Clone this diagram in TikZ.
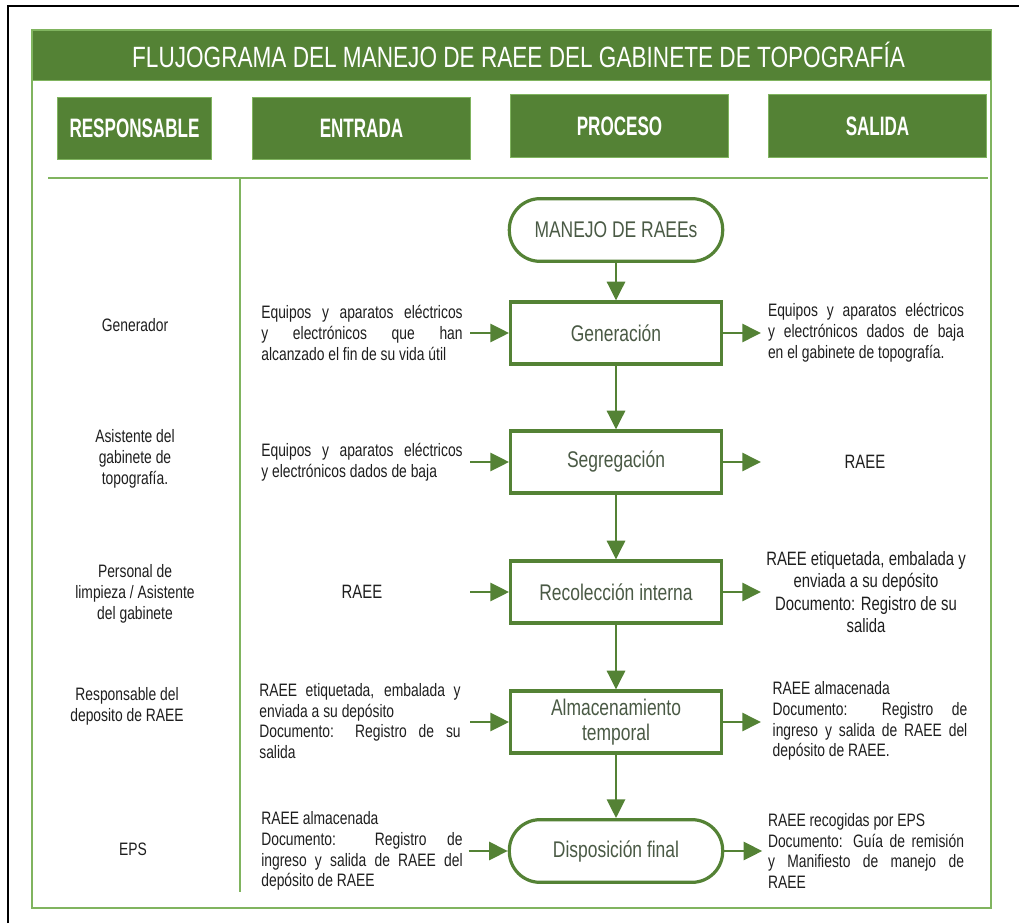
\documentclass[tikz,border=0pt]{standalone}
\usepackage{fontspec}
\setmainfont{Liberation Sans}[FakeStretch=0.77]
\newfontfamily\titlefont{Liberation Sans}[FakeStretch=0.77]
\newfontfamily\headfont{Liberation Sans}[FakeStretch=0.64]
\usetikzlibrary{arrows.meta, positioning}
\definecolor{rgGreen}{HTML}{548235}
\definecolor{rgLight}{HTML}{80B45F}
\definecolor{rgInk}{HTML}{1E1E1E}
\definecolor{rgProc}{HTML}{4A5A45}
\tikzset{
  headbox/.style={
    fill=rgGreen, draw=rgLight, line width=0.6pt, text=white,
    font=\headfont\bfseries\fontsize{20}{24}\selectfont,
    minimum height=47pt, inner sep=0pt
  },
  procbox/.style={
    draw=rgGreen, line width=2.4pt, fill=white, align=center,
    minimum width=158pt, minimum height=46.5pt, inner sep=2pt,
    text=rgProc, font=\fontsize{17}{19}\selectfont
  },
  termbox/.style={procbox, rounded corners=23pt},
  flow/.style={-{Triangle[length=14pt, width=13.5pt]}, line width=2.2pt, draw=rgGreen},
  frameline/.style={draw=rgLight, line width=1.5pt},
  intxt/.style={
    text width=151pt, align=justify, inner sep=0pt, text=rgInk,
    font=\fontsize{13.5}{15.6}\selectfont,
    execute at begin node={\hyphenpenalty=10000\exhyphenpenalty=10000\tolerance=10000\hbadness=10000}
  },
  resptxt/.style={align=center, inner sep=0pt, text=rgInk, font=\fontsize{13.5}{15.8}\selectfont},
}

\begin{document}
\begin{tikzpicture}[x=0.75pt, y=-0.75pt]
  \useasboundingbox (0,0) rectangle (1019,923);
  % page frame
  \draw[black, line width=1.6pt] (8,923) -- (8,6) -- (1019,6);
  \draw[frameline] (32,30) rectangle (991,908);
  \draw[fill=rgGreen, draw=rgLight, line width=0.6pt] (32,30) rectangle (991,80);
  \node[text=white, font=\titlefont\fontsize{22}{24}\selectfont] (title) at (518.5,55)
    {FLUJOGRAMA DEL MANEJO DE RAEE DEL GABINETE DE TOPOGRAFÍA};

  % column headers
  \node[headbox, minimum width=116pt] (hresp) at (134.5,128.5) {RESPONSABLE};
  \node[headbox, minimum width=163pt] (hent) at (361.5,128.5) {ENTRADA};
  \node[headbox, minimum width=163pt] (hproc) at (619.5,126) {PROCESO};
  \node[headbox, minimum width=163pt] (hsal) at (877.5,126) {SALIDA};
  \draw[frameline] (48,178) -- (988,178);
  \draw[frameline] (240,178) -- (240,892);

  % process
  \node[termbox, minimum width=160pt, minimum height=47pt] (start) at (616,230) {MANEJO DE RAEEs};
  \node[procbox] (gen) at (616,333) {Generación};
  \node[procbox] (seg) at (616,462) {Segregación};
  \node[procbox] (rec) at (616,592) {Recolección interna};
  \node[procbox] (alm) at (616,722) {Almacenamiento\\temporal};
  \node[termbox, minimum width=160pt, minimum height=47pt] (dis) at (616,851) {Disposición final};

  % responsables
  \node[resptxt] (r1) at (135,325) {Generador};
  \node[resptxt] (r2) at (135,459) {Asistente del\\gabinete de\\topografía.};
  \node[resptxt] (r3) at (135,594) {Personal de\\limpieza / Asistente\\del gabinete};
  \node[resptxt] (r4) at (127,706) {Responsable del\\deposito de RAEE};
  \node[resptxt] (r5) at (133,849) {EPS};

  % entradas
  \node[intxt] (e1) at (362,333)
    {Equipos y aparatos eléctricos\linebreak y electrónicos que han\linebreak alcanzado el fin de su vida útil};
  \node[intxt] (e2) at (362,462)
    {Equipos y aparatos eléctricos\linebreak y electrónicos dados de baja};
  \node[resptxt, font=\fontsize{14.5}{16}\selectfont] (e3) at (362,592) {RAEE};
  \node[intxt] (e4) at (360,721)
    {RAEE etiquetada, embalada y\linebreak enviada a su depósito\par
     Documento: Registro de su\linebreak salida};
  \node[intxt] (e5) at (362,851)
    {RAEE almacenada\par Documento: Registro de\linebreak ingreso y salida de RAEE del\linebreak depósito de RAEE};

  % salidas
  \node[intxt, text width=147pt] (s1) at (866,333)
    {Equipos y aparatos eléctricos\linebreak y electrónicos dados de baja\linebreak en el gabinete de topografía.};
  \node[resptxt, font=\fontsize{14.5}{16}\selectfont] (s2) at (865,462) {RAEE};
  \node[resptxt, font=\fontsize{14.5}{16.8}\selectfont] (s3) at (866,592)
    {RAEE etiquetada, embalada y\\enviada a su depósito\\Documento: Registro de su\\salida};
  \node[intxt, text width=146pt] (s4) at (870,721)
    {RAEE almacenada\par Documento: Registro de\linebreak ingreso y salida de RAEE del\linebreak depósito de RAEE.};
  \node[intxt, text width=147pt] (s5) at (866,851)
    {RAEE recogidas por EPS\par Documento: Guía de remisión\linebreak y Manifiesto de manejo de\linebreak RAEE};

  % connectors
  \foreach \a/\b in {start/gen, gen/seg, seg/rec, rec/alm, alm/dis}
    \draw[flow] (\a) -- (\b);
  \foreach \n in {gen, seg, rec, alm, dis} {
    \draw[flow] (\n.west) ++(-39,0) -- (\n.west);
    \draw[flow] (\n.east) -- ++(38,0);
  }
\end{tikzpicture}
\end{document}
